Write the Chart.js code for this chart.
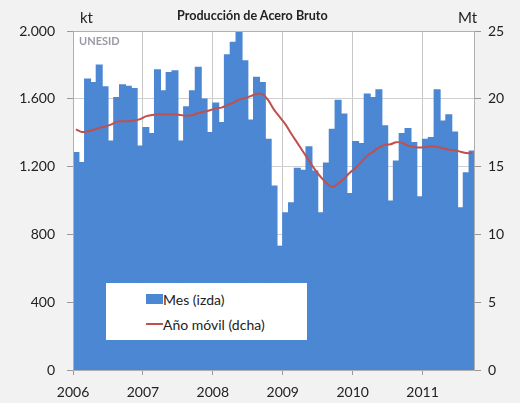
<!DOCTYPE html>
<html lang="es">
<head>
<meta charset="utf-8">
<title>Producción de Acero Bruto</title>
<script src="https://cdn.jsdelivr.net/npm/chart.js@4.4.1/dist/chart.umd.min.js"></script>
<style>
	body { margin: 0; background: #f2f2f2; }
	#wrap { position: relative; width: 520px; height: 403px; font-family: Lato, sans-serif; color: #222; }
	#grafico { position: absolute; left: 0; top: 0; }
	.txt { position: absolute; white-space: nowrap; line-height: 1; }
	#titulo { left: 177px; top: 10px; font-size: 12.6px; font-weight: bold; }
	#kt { left: 80px; top: 10px; font-size: 15px; }
	#mt { left: 458px; top: 10px; font-size: 15px; }
	#unesid { left: 79px; top: 35px; font-size: 11px; font-weight: bold; color: #9a9aa6; }
	#leyenda { position: absolute; left: 106px; top: 283px; width: 201px; height: 57px; background: #fff; font-size: 14px; }
	#leyenda .fila { position: absolute; left: 40px; height: 16px; display: flex; align-items: center; }
	#leyenda .caja { width: 17px; height: 10px; background: #4b87d3; }
	#leyenda .raya { width: 17px; height: 2px; background: #c0504d; }
</style>
</head>
<body>
<div id="wrap">
	<canvas id="grafico" width="520" height="403"></canvas>
	<div class="txt" id="titulo">Producción de Acero Bruto</div>
	<div class="txt" id="kt">kt</div>
	<div class="txt" id="mt">Mt</div>
	<div class="txt" id="unesid">UNESID</div>
	<div id="leyenda">
		<div class="fila" style="top:8px"><span class="caja"></span><span>Mes (izda)</span></div>
		<div class="fila" style="top:33px"><span class="raya"></span><span>Año móvil (dcha)</span></div>
	</div>
</div>
<script>
	// años y meses del eje x
	var anos = ["2006", "2007", "2008", "2009", "2010", "2011"];
	var meses = ["ene", "feb", "mar", "abr", "may", "jun", "jul", "ago", "sep", "oct", "nov", "dic"];

	// producción mensual (kt)
	var mes2006 = [1282, 1223, 1716, 1696, 1799, 1671, 1351, 1607, 1683, 1673, 1660, 1321];
	var mes2007 = [1430, 1394, 1771, 1647, 1755, 1765, 1351, 1552, 1647, 1785, 1598, 1400];
	var mes2008 = [1574, 1460, 1860, 1933, 1992, 1824, 1475, 1726, 1696, 1361, 1085, 730];
	var mes2009 = [927, 986, 1189, 1178, 1316, 1174, 927, 1220, 1420, 1591, 1509, 1040];
	var mes2010 = [1347, 1335, 1627, 1607, 1653, 1440, 996, 1233, 1394, 1424, 1341, 1022];
	var mes2011 = [1361, 1371, 1653, 1469, 1505, 1404, 957, 1163, 1292];

	// año móvil (Mt)
	var movil2006 = [17.75, 17.55, 17.6, 17.7, 17.85, 17.95, 18.1, 18.3, 18.35, 18.35, 18.4, 18.5];
	var movil2007 = [18.7, 18.8, 18.85, 18.85, 18.85, 18.85, 18.8, 18.75, 18.8, 18.95, 19.05, 19.15];
	var movil2008 = [19.3, 19.35, 19.55, 19.7, 19.95, 20.05, 20.2, 20.35, 20.35, 19.9, 19.2, 18.65];
	var movil2009 = [18.1, 17.4, 16.75, 16.1, 15.45, 14.8, 14.25, 13.8, 13.5, 13.75, 14.1, 14.55];
	var movil2010 = [14.9, 15.35, 15.8, 16.1, 16.4, 16.6, 16.65, 16.8, 16.75, 16.55, 16.45, 16.4];
	var movil2011 = [16.45, 16.5, 16.45, 16.35, 16.25, 16.2, 16.1, 16.0, 16.0];

	var ticksIzda = [0, 400, 800, 1200, 1600, 2000];
	var ticksDcha = [0, 5, 10, 15, 20, 25];

	var produccion = [].concat(mes2006, mes2007, mes2008, mes2009, mes2010, mes2011);
	var anoMovil = [].concat(movil2006, movil2007, movil2008, movil2009, movil2010, movil2011);

	var etiquetas = [];
	for (var a = 0; a < anos.length; a++) {
		for (var m = 0; m < meses.length; m++) {
			etiquetas.push(meses[m] + " " + anos[a]);
		}
	}
	etiquetas = etiquetas.slice(0, produccion.length);

	function miles(v) {
		return String(v).replace(/\B(?=(\d{3})+(?!\d))/g, ".");
	}

	function esEnero(ctx) {
		return ctx.index !== undefined && ctx.index % 12 == 0;
	}

	// fondo blanco del área y marco
	var marco = {
		id: "marco",
		beforeDraw: function(chart) {
			var c = chart.ctx, ar = chart.chartArea;
			c.save();
			c.fillStyle = "#fff";
			c.fillRect(ar.left, ar.top, ar.right - ar.left, ar.bottom - ar.top);
			c.restore();
		},
		afterDatasetsDraw: function(chart) {
			var c = chart.ctx, ar = chart.chartArea;
			c.save();
			c.strokeStyle = "#b0b0b0";
			c.lineWidth = 1;
			c.strokeRect(ar.left + 0.5, ar.top + 0.5, ar.right - ar.left - 1, ar.bottom - ar.top);
			c.restore();
		}
	};

	Chart.defaults.font.family = "Lato, sans-serif";
	Chart.defaults.color = "#222";

	var ctx = document.getElementById("grafico");

	var chart = new Chart(ctx, {
		data: {
			labels: etiquetas,
			datasets: [
				{
					type: "line",
					label: "Año móvil (dcha)",
					data: anoMovil,
					yAxisID: "y1",
					borderColor: "#c0504d",
					borderWidth: 2,
					pointRadius: 0,
					tension: 0.4,
					fill: false,
					order: 0
				},
				{
					type: "bar",
					label: "Mes (izda)",
					data: produccion,
					yAxisID: "y",
					backgroundColor: "#4b87d3",
					borderWidth: 0,
					inflateAmount: 0.6,
					barPercentage: 1,
					categoryPercentage: 1,
					order: 1
				}
			]
		},
		options: {
			responsive: false,
			animation: false,
			devicePixelRatio: 1,
			layout: { padding: { top: 31, left: 0, right: 0, bottom: 0 } },
			plugins: {
				legend: { display: false },
				title: { display: false },
				tooltip: { enabled: false }
			},
			scales: {
				x: {
					offset: true,
					grid: {
						offset: true,
						color: function(c) { return esEnero(c) ? "#c8c8c8" : "transparent"; },
						tickColor: function(c) { return esEnero(c) ? "#999" : "transparent"; },
						tickLength: 5
					},
					border: { display: false },
					ticks: {
						autoSkip: false,
						maxRotation: 0,
						minRotation: 0,
						padding: 9,
						labelOffset: -2.9,
						font: { size: 14 },
						callback: function(v, i) {
							return i % 12 == 0 ? anos[i / 12] : "";
						}
					},
					afterFit: function(s) { s.height = 33; }
				},
				y: {
					position: "left",
					min: 0,
					max: 2000,
					afterBuildTicks: function(s) {
						s.ticks = ticksIzda.map(function(v) { return { value: v }; });
					},
					grid: { color: "#d0d0d0", tickColor: "#999", tickLength: 6 },
					border: { display: false },
					ticks: {
						padding: 12,
						font: { size: 14 },
						callback: function(v) { return miles(v); }
					},
					afterFit: function(s) { s.width = 73; }
				},
				y1: {
					position: "right",
					min: 0,
					max: 25,
					afterBuildTicks: function(s) {
						s.ticks = ticksDcha.map(function(v) { return { value: v }; });
					},
					grid: { drawOnChartArea: false, tickColor: "#999", tickLength: 6 },
					border: { display: false },
					ticks: {
						padding: 7,
						font: { size: 14 }
					},
					afterFit: function(s) { s.width = 45; }
				}
			}
		},
		plugins: [marco]
	});
</script>
</body>
</html>
